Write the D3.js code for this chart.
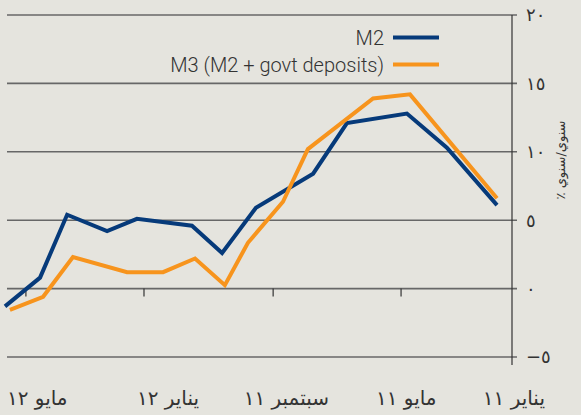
<!DOCTYPE html>
<html>
<head>
<meta charset="utf-8">
<script src="https://cdn.jsdelivr.net/npm/d3@7"></script>
<style>
  html, body { margin: 0; padding: 0; background: #e5e4de; }
  svg { display: block; }
</style>
</head>
<body>
<svg id="chart" width="581" height="415"></svg>
<script>
// ---- data (x in months from Jan 2011, right-to-left axis) ----
const m2Months = [0, 1.63, 2.93, 4.88, 5.98, 7.84, 8.94, 9.92, 11.71, 12.68, 13.98, 14.86, 16];
const m2Values = [6.1, 10.3, 12.8, 12.1, 8.4, 5.9, 2.6, 4.6, 5.1, 4.2, 5.4, 0.8, -1.3];
const m3Months = [0, 2.83, 4.03, 5.69, 6.15, 6.96, 8.10, 8.85, 9.82, 10.86, 12.03, 13.79, 14.76, 15.84];
const m3Values = [6.6, 14.2, 13.9, 11.0, 10.2, 6.35, 3.35, 0.25, 2.2, 1.2, 1.2, 2.3, -0.6, -1.55];
const yTickValues = [-5, 0, 5, 10, 15, 20];
const yTickLabels = ["−٥", "٠", "٥", "١٠", "١٥", "٢٠"];
const xTickMonths = [3.12, 7.28, 11.48, 15.32];
const xLabels = ["يناير ١١", "مايو ١١", "سبتمبر ١١", "يناير ١٢", "مايو ١٢"];
const xLabelMonths = [-0.55, 2.95, 6.85, 10.7, 14.95];
const seriesNames = ["M2", "M3 (M2 + govt deposits)"];
const seriesColors = ["#063a7a", "#f7941d"];
const axisTitle = "٪ سنوي/سنوي";

const svg = d3.select("#chart");
const x = d3.scaleLinear().domain([0, 16]).range([497, 5]);
const y = d3.scaleLinear().domain([-5, 20]).range([357, 15]);
const gridLeft = 7, axisX = 512;

// gridlines
svg.append("g").selectAll("line").data(yTickValues).join("line")
  .attr("x1", gridLeft).attr("x2", axisX + 5)
  .attr("y1", d => y(d)).attr("y2", d => y(d))
  .attr("stroke", "#676767").attr("stroke-width", 1.6);

// right axis line
svg.append("line").attr("x1", axisX).attr("x2", axisX)
  .attr("y1", y(20)).attr("y2", y(-5) + 8)
  .attr("stroke", "#333").attr("stroke-width", 1.2);

// y tick labels
svg.append("g").selectAll("text").data(yTickValues).join("text")
  .attr("x", axisX + 14).attr("y", d => y(d)).attr("dy", "0.36em")
  .attr("font-family", "DejaVu Sans").attr("font-size", 18).attr("fill", "#333")
  .attr("direction", "ltr")
  .text((d, i) => yTickLabels[i]);

// x ticks on zero line
svg.append("g").selectAll("line").data(xTickMonths).join("line")
  .attr("x1", d => x(d)).attr("x2", d => x(d))
  .attr("y1", y(0)).attr("y2", y(0) + 8)
  .attr("stroke", "#333").attr("stroke-width", 1.2);

// x labels
svg.append("g").selectAll("text").data(xLabels).join("text")
  .attr("x", (d, i) => x(xLabelMonths[i])).attr("y", 405)
  .attr("text-anchor", "middle")
  .attr("font-family", "DejaVu Sans").attr("font-size", 20).attr("fill", "#333")
  .text(d => d);

// axis title
svg.append("text")
  .attr("transform", `translate(565,160) rotate(-90)`)
  .attr("text-anchor", "middle")
  .attr("font-family", "DejaVu Sans").attr("font-size", 13).attr("fill", "#333")
  .text(axisTitle);

// lines
const line = d3.line().x(d => x(d[0])).y(d => y(d[1]));
const series = [d3.zip(m2Months, m2Values), d3.zip(m3Months, m3Values)];
svg.append("g").selectAll("path").data(series).join("path")
  .attr("d", line).attr("fill", "none")
  .attr("stroke", (d, i) => seriesColors[i]).attr("stroke-width", 4);

// legend
const leg = svg.append("g").selectAll("g").data(seriesNames).join("g")
  .attr("transform", (d, i) => `translate(0, ${i * 27})`);
leg.append("text").attr("x", 384).attr("y", 45).attr("text-anchor", "end")
  .attr("font-family", "Roboto").attr("font-weight", 300).attr("font-size", 20).attr("fill", "#333")
  .text(d => d);
leg.append("line").attr("x1", 393).attr("x2", 439).attr("y1", 37.5).attr("y2", 37.5)
  .attr("stroke", (d, i) => seriesColors[i]).attr("stroke-width", 4);
</script>
</body>
</html>
